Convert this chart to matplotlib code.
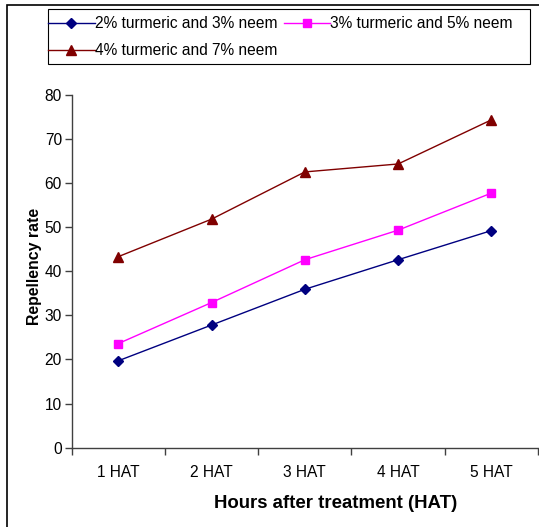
import matplotlib
matplotlib.use("Agg")
import matplotlib.pyplot as plt
from matplotlib.patches import Rectangle

plt.rcParams['font.family'] = ['Liberation Sans', 'DejaVu Sans']

categories = ["1 HAT", "2 HAT", "3 HAT", "4 HAT", "5 HAT"]
s1_label = "2% turmeric and 3% neem"
s2_label = "3% turmeric and 5% neem"
s3_label = "4% turmeric and 7% neem"
s1_values = [19.7, 27.8, 35.9, 42.6, 49.2]
s2_values = [23.6, 32.9, 42.6, 49.3, 57.7]
s3_values = [43.3, 51.8, 62.5, 64.3, 74.3]
y_ticks = [0, 10, 20, 30, 40, 50, 60, 70, 80]

W, H = 539, 527
fig = plt.figure(figsize=(W / 100, H / 100), dpi=100)
ax = fig.add_axes([71.7 / W, 1 - 447.7 / H, (538 - 71.7) / W, (447.7 - 94.7) / H])

x = list(range(len(categories)))
l1, = ax.plot(x, s1_values, color='#000080', lw=1.0, marker='D', ms=5, label=s1_label)
l2, = ax.plot(x, s2_values, color='#FF00FF', lw=1.0, marker='s', ms=5.5, label=s2_label)
l3, = ax.plot(x, s3_values, color='#800000', lw=1.0, marker='^', ms=6.5, label=s3_label)

ax.set_xlim(-0.5, len(categories) - 0.5)
ax.set_ylim(0, 80)
ax.set_yticks(y_ticks)
ax.set_xticks([i - 0.5 for i in range(len(categories) + 1)])
ax.set_xticklabels([])
ax.set_xticks(x, minor=True)
ax.set_xticklabels(categories, minor=True)
ax.tick_params(axis='x', which='minor', length=0, pad=12.8, labelsize=11.2)
ax.tick_params(axis='x', which='major', length=5, width=1, color='#404040', direction='out')
ax.tick_params(axis='y', length=5, width=1, color='#404040', direction='out', labelsize=11.2, pad=2)

for s in ['top', 'right']:
    ax.spines[s].set_visible(False)
for s in ['left', 'bottom']:
    ax.spines[s].set_color('#404040')
    ax.spines[s].set_linewidth(1.0)

ax.set_xlabel("Hours after treatment (HAT)", fontsize=13.4, fontweight='bold')
ax.xaxis.set_label_coords((336 - 71.7) / (538 - 71.7), -(503 - 447.7) / (447.7 - 94.7), transform=ax.transAxes)
ax.xaxis.label.set_va('center')
ax.set_ylabel("Repellency rate", fontsize=11.4, fontweight='bold')
ax.yaxis.set_label_coords(-(71.7 - 34) / (538 - 71.7), (447.7 - 266.7) / (447.7 - 94.7), transform=ax.transAxes)
ax.yaxis.label.set_va('center')

leg = fig.legend([l1, l3, l2], [s1_label, s3_label, s2_label], ncol=2,
                 loc='upper left', bbox_to_anchor=(48 / W, 1 - 16.5 / H),
                 frameon=False, borderpad=0, borderaxespad=0, fontsize=11.2,
                 handlelength=3.0, handletextpad=0.0, columnspacing=0.42,
                 labelspacing=0.75)

fig.add_artist(Rectangle((48 / W, 1 - 64 / H), (530 - 48) / W, (64 - 9) / H,
                         transform=fig.transFigure, fill=False, edgecolor='black', lw=0.8))
fig.add_artist(Rectangle((7 / W, -0.1), 1.2, 1.1 - 5 / H,
                         transform=fig.transFigure, fill=False, edgecolor='black', lw=1.2,
                         clip_on=False))

fig.savefig("out.png", dpi=100)
